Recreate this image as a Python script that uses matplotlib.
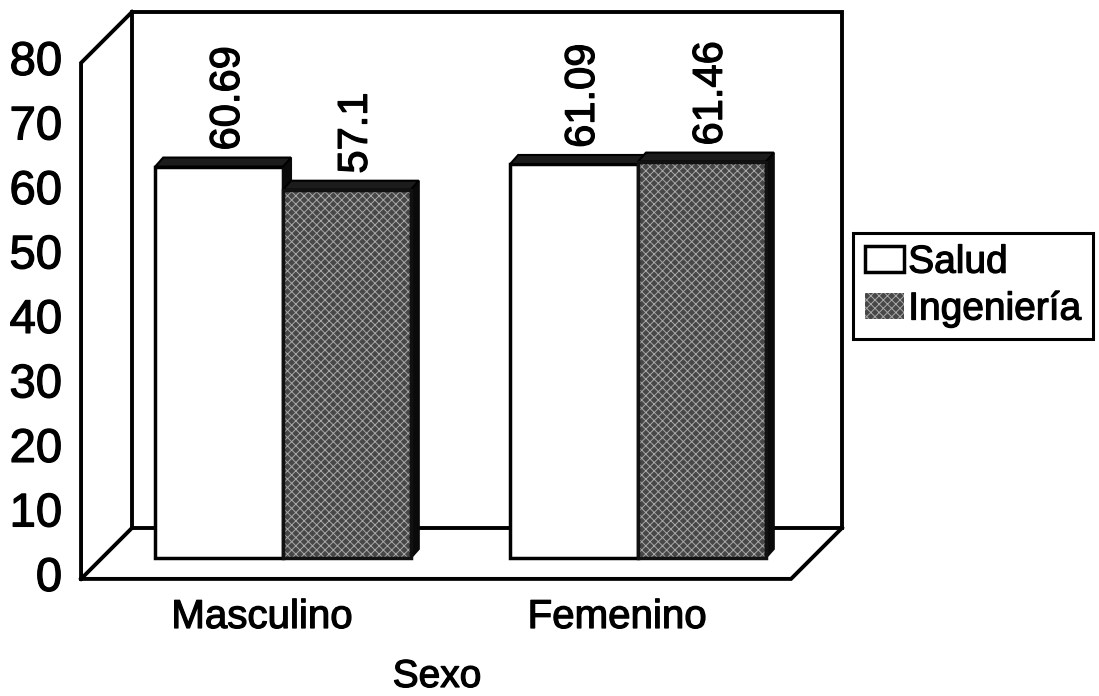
import matplotlib
matplotlib.use("Agg")
import matplotlib.pyplot as plt
import matplotlib.patheffects as pe
from matplotlib.patches import Polygon
import numpy as np

# ─── Data ─────────────────────────────────────────────────────────────────────
categories = ["Masculino", "Femenino"]
series = ["Salud", "Ingeniería"]
salud = [60.69, 61.09]
ingenieria = [57.1, 61.46]
salud_labels = ["60.69", "61.09"]
ingenieria_labels = ["57.1", "61.46"]
y_ticks = [0, 10, 20, 30, 40, 50, 60, 70, 80]
x_title = "Sexo"

# ─── Geometry (pseudo-3D frame, Excel style) ──────────────────────────────────
W, H = 1099, 696
PX_X, PX_Y = 355.0, 6.45          # pixels per category unit / per value unit
X0PIX, Y0PIX = 283, 558           # where (0, 0) of the bar plane sits
DX, DV = 51 / PX_X, 51 / PX_Y     # total depth of the frame
F = 0.41                          # bar plane position inside the depth
FX, FV = -F * DX, -F * DV         # offset to the front plane
BX, BV = (1 - F) * DX, (1 - F) * DV
BW = 0.36                         # bar width
BDX, BDV = 8 / PX_X, 9 / PX_Y     # bar depth
X0, X1, YMAX = -0.51, 1.49, 80

plt.rcParams["font.family"] = ["Liberation Sans", "DejaVu Sans"]
plt.rcParams["hatch.linewidth"] = 0.7
bold = [pe.withStroke(linewidth=0.9, foreground="black")]

fig = plt.figure(figsize=(W / 100, H / 100), dpi=100)
ax = fig.add_axes([0, 0, 1, 1])
ax.set_xlim(-X0PIX / PX_X, (W - X0PIX) / PX_X)
ax.set_ylim((Y0PIX - H) / PX_Y, Y0PIX / PX_Y)
ax.axis("off")

# frame: back wall, left wall, floor
k = dict(color="black", lw=2.8, zorder=1, solid_joinstyle="miter")
ax.plot([X0 + BX, X1 + BX, X1 + BX, X0 + BX, X0 + BX],
        [BV, BV, YMAX + BV, YMAX + BV, BV], **k)
ax.plot([X0 + FX, X0 + FX, X0 + BX], [FV, YMAX + FV, YMAX + BV], **k)
ax.plot([X0 + FX, X0 + BX], [FV, BV], **k)
ax.plot([X0 + FX, X1 + FX, X1 + BX], [FV, FV, BV], **k)


def bar_faces(left, h, z):
    r = left + BW
    side = Polygon([(r, 0), (r + BDX, BDV), (r + BDX, h + BDV), (r, h)],
                   closed=True, fc="#0a0a0a", ec="#0a0a0a", lw=1.5, zorder=z)
    top = Polygon([(left, h), (left + BDX, h + BDV), (r + BDX, h + BDV), (r, h)],
                  closed=True, fc="#1c1c1c", ec="black", lw=1.5, zorder=z)
    ax.add_patch(side)
    ax.add_patch(top)


x = np.arange(len(categories))

# Salud bars (white)
b_salud = ax.bar(x - BW, salud, BW, align="edge", color="white",
                 edgecolor="black", lw=2.5, zorder=3)
for xi, h in zip(x, salud):
    bar_faces(xi - BW, h, 3)

# Ingeniería bars (grey halftone)
b_ing = ax.bar(x, ingenieria, BW, align="edge", color="#474747",
               edgecolor="#a8a8a8", hatch="xxxx", lw=0, zorder=4)
ax.bar(x, ingenieria, BW, align="edge", fill=False,
       edgecolor="#111111", lw=2.5, zorder=4.2)
for xi, h in zip(x, ingenieria):
    bar_faces(xi, h, 4.1)

# value labels (rotated)
cap = 0.716 * 30 / 72 * 100 / PX_X
for xi, h, s in zip(x, salud, salud_labels):
    ax.text(xi - BW / 2 + 0.014 + cap / 2, h + BDV + 1.1, s, rotation=90,
            rotation_mode="anchor", ha="left", va="baseline", fontsize=30,
            path_effects=bold)
for xi, h, s in zip(x, ingenieria, ingenieria_labels):
    ax.text(xi + BW / 2 + 0.014 + cap / 2, h + BDV + 1.1, s, rotation=90,
            rotation_mode="anchor", ha="left", va="baseline", fontsize=30,
            path_effects=bold)

# y tick labels on the front plane
for t in y_ticks:
    ax.text(X0 + FX - 0.053, t + FV, str(t), ha="right", va="center",
            fontsize=34, path_effects=bold)

# category labels and axis title
for xi, c in zip(x, categories):
    ax.text(xi + FX, -10.85, c, ha="center", va="baseline", fontsize=29,
            path_effects=bold)
ax.text((437 - X0PIX) / PX_X, -20.0, x_title, ha="center", va="baseline",
        fontsize=28, path_effects=bold)

leg = ax.legend([b_salud, b_ing], series, loc="upper left",
                bbox_to_anchor=(853 / W, 1 - 233 / H),
                bbox_transform=fig.transFigure, borderaxespad=0,
                fontsize=28, fancybox=False, framealpha=1,
                handlelength=1.0, handleheight=0.68, handletextpad=0.12,
                borderpad=0.3, labelspacing=0.28)
leg.get_frame().set_edgecolor("black")
leg.get_frame().set_linewidth(2.2)
for t in leg.get_texts():
    t.set_path_effects(bold)

fig.savefig("out.png", dpi=100)
